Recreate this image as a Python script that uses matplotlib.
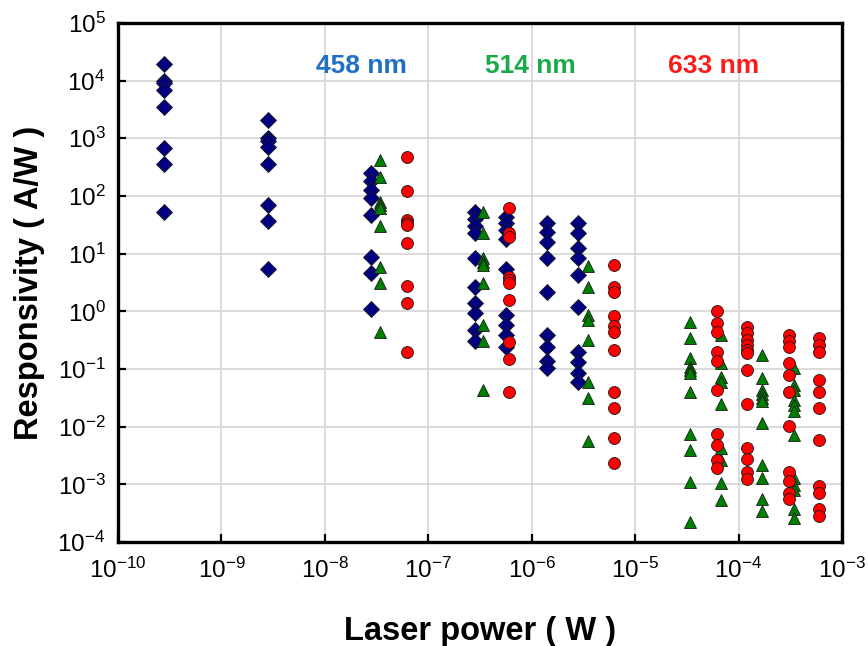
import numpy as np
import matplotlib
matplotlib.use("Agg")
import matplotlib.pyplot as plt
from matplotlib.ticker import FixedLocator, FixedFormatter, NullLocator

plt.rcParams['font.family'] = ['Liberation Sans', 'DejaVu Sans']
plt.rcParams['mathtext.fontset'] = 'custom'
plt.rcParams['mathtext.rm'] = 'Liberation Sans'
plt.rcParams['mathtext.it'] = 'Liberation Sans:italic'
plt.rcParams['mathtext.bf'] = 'Liberation Sans:bold'

# ---- 458 nm (blue diamonds) ----
power_458 = [2.8e-10, 2.8e-9, 2.8e-8, 2.8e-7, 5.6e-7, 1.4e-6, 2.8e-6]
resp_458 = [
    [1.95e4, 1.0e4, 9.0e3, 7.0e3, 3.5e3, 690, 360, 53],
    [2.1e3, 1.0e3, 880, 720, 360, 70, 37, 5.4],
    [250, 180, 127, 91, 47, 8.9, 4.7, 1.08],
    [53, 40, 30, 22.5, 8.3, 2.6, 1.41, 0.92, 0.48, 0.30],
    [44, 34, 26, 18, 5.4, 0.86, 0.58, 0.39, 0.24],
    [34, 24, 16, 8.3, 2.2, 0.39, 0.24, 0.14, 0.103],
    [34, 22.5, 12.4, 8.3, 4.3, 1.17, 0.2, 0.134, 0.084, 0.06],
]

# ---- 514 nm (green triangles) ----
power_514 = [3.4e-8, 3.4e-7, 3.5e-6, 3.4e-5, 6.8e-5, 1.7e-4, 3.4e-4]
resp_514 = [
    [420, 216, 80, 70, 61, 30, 5.8, 3.1, 0.44],
    [53, 23, 8.3, 7.3, 6.4, 3.06, 0.59, 0.31, 0.043],
    [6.1, 2.6, 0.86, 0.71, 0.32, 0.06, 0.031, 0.0057],
    [0.66, 0.34, 0.153, 0.11, 0.096, 0.084, 0.040, 0.0075, 0.0039, 0.0011, 0.000225],
    [0.39, 0.126, 0.072, 0.06, 0.025, 0.0042, 0.0026, 0.00104, 0.00054],
    [0.175, 0.069, 0.044, 0.037, 0.032, 0.028, 0.0117, 0.0022, 0.00127, 0.00055, 0.00034],
    [0.103, 0.053, 0.043, 0.029, 0.024, 0.019, 0.0072, 0.00127, 0.00098, 0.0008, 0.00038, 0.00026],
]

# ---- 633 nm (red circles) ----
power_633 = [6.2e-8, 6.0e-7, 6.2e-6, 6.2e-5, 1.2e-4, 3.1e-4, 6.0e-4]
resp_633 = [
    [481, 124, 39, 34, 31, 15, 2.7, 1.41, 0.2],
    [61, 22.5, 19.7, 4.0, 3.5, 3.1, 1.57, 0.29, 0.15, 0.040],
    [6.4, 2.6, 2.2, 0.83, 0.56, 0.44, 0.21, 0.040, 0.021, 0.0064, 0.0023],
    [1.03, 0.62, 0.43, 0.2, 0.14, 0.043, 0.0075, 0.0048, 0.0026, 0.0019],
    [0.54, 0.42, 0.32, 0.26, 0.21, 0.19, 0.096, 0.025, 0.0042, 0.0028, 0.00166, 0.00122],
    [0.39, 0.30, 0.24, 0.126, 0.079, 0.040, 0.0103, 0.00166, 0.00116, 0.0007, 0.00055],
    [0.34, 0.26, 0.2, 0.065, 0.04, 0.021, 0.0059, 0.00092, 0.00071, 0.00038, 0.00028],
]

x_exponents = [-10, -9, -8, -7, -6, -5, -4, -3]
y_exponents = [5, 4, 3, 2, 1, 0, -1, -2, -3, -4]
x_ticklabels = [r'$\mathregular{10^{%d}}$' % e for e in x_exponents]
y_ticklabels = [r'$\mathregular{10^{%d}}$' % e for e in y_exponents]

wavelength_labels = ['458 nm', '514 nm', '633 nm']


def flatten(powers, groups):
    xs = np.concatenate([np.full(len(g), p) for p, g in zip(powers, groups)])
    ys = np.concatenate([np.asarray(g, dtype=float) for g in groups])
    return xs, ys


fig = plt.figure(figsize=(8.68, 6.46), dpi=100)
ax = fig.add_axes([0.136, 0.161, 0.834, 0.8035])
ax.set_xscale('log')
ax.set_yscale('log')
ax.set_xlim(1e-10, 1e-3)
ax.set_ylim(1e-4, 1e5)

series = [
    (power_458, resp_458, 'D', '#000080', 8.0),
    (power_514, resp_514, '^', '#008000', 9.0),
    (power_633, resp_633, 'o', '#ff0000', 8.6),
]
for z, (pw, rs, mk, col, ms) in enumerate(series):
    xs, ys = flatten(pw, rs)
    ax.plot(xs, ys, linestyle='none', marker=mk, markersize=ms,
            markerfacecolor=col, markeredgecolor='#1a1a1a',
            markeredgewidth=0.6, zorder=3 + z, clip_on=False)

# axes ticks, grid and frame
ax.xaxis.set_major_locator(FixedLocator([10.0 ** e for e in x_exponents]))
ax.xaxis.set_major_formatter(FixedFormatter(x_ticklabels))
ax.yaxis.set_major_locator(FixedLocator([10.0 ** e for e in y_exponents]))
ax.yaxis.set_major_formatter(FixedFormatter(y_ticklabels))
ax.xaxis.set_minor_locator(NullLocator())
ax.yaxis.set_minor_locator(NullLocator())
ax.tick_params(axis='both', which='major', direction='in', length=6,
               width=1.6, labelsize=17.5, color='black')
ax.tick_params(axis='x', pad=11)
ax.tick_params(axis='y', pad=9)
ax.grid(True, which='major', color='#d4d4d4', linewidth=1.2, zorder=0)
ax.set_axisbelow(True)
for sp in ax.spines.values():
    sp.set_linewidth(2.4)
    sp.set_color('black')

ax.set_xlabel('Laser power ( W )', fontsize=23.5, fontweight='bold', labelpad=24)
ax.set_ylabel('Responsivity ( A/W )', fontsize=23.5, fontweight='bold', labelpad=9)

# wavelength annotations
label_colors = ['#1f6fc5', '#1aaa4a', '#ff1a1a']
label_x = [0.336, 0.570, 0.822]
for txt, c, xp in zip(wavelength_labels, label_colors, label_x):
    ax.text(xp, 0.917, txt, transform=ax.transAxes, color=c, fontsize=19,
            fontweight='bold', ha='center', va='center', zorder=6)

fig.savefig('out.png', dpi=100)
